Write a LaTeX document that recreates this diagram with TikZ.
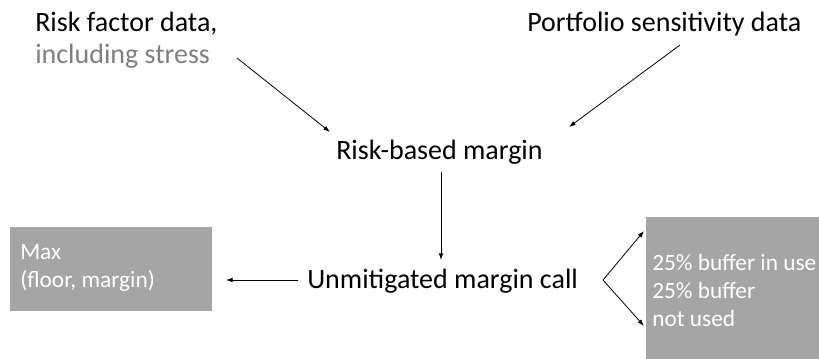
\documentclass[tikz,border=0pt]{standalone}
\usepackage{fontspec}
\setmainfont{Carlito}
\usetikzlibrary{arrows.meta}
\definecolor{boxgray}{HTML}{A5A5A5}
\definecolor{softgray}{HTML}{7F7F7F}
\tikzset{
  main/.style={font=\fontsize{21}{24}\selectfont, inner sep=0pt, anchor=base west, align=left},
  boxtext/.style={font=\fontsize{17.5}{21}\selectfont, text=white, inner sep=0pt, anchor=base west, align=left},
  graybox/.style={fill=boxgray, inner sep=0pt, anchor=north west},
  flow/.style={-{Latex[length=5pt,width=3.5pt]}, line width=0.6pt},
}
\begin{document}
\begin{tikzpicture}[x=0.75pt,y=-0.75pt]
      \useasboundingbox (0,0) rectangle (819,359);
      % boxes
      \node[graybox, minimum width=151.5pt, minimum height=63pt] (maxbox) at (10,227) {};
      \node[graybox, minimum width=129.75pt, minimum height=106pt] (bufbox) at (646,217) {};
      % texts (base = last line)
      \draw
        (35,64) node[main] (riskdata) {Risk factor data,\\\textcolor{softgray}{including stress}}
        (527,32) node[main] (portdata) {Portfolio sensitivity data}
        (336,160) node[main] (rbm) {Risk-based margin}
        (307,289) node[main] (umc) {Unmitigated margin call}
        (20,288) node[boxtext] (maxtext) {Max\\(floor, margin)}
        (652,327) node[boxtext] (buftext) {25\% buffer in use\\25\% buffer\\not used};
      % arrow ends
      \coordinate (a1) at (237,58);
      \coordinate (a2) at (330,132);
      \coordinate (b1) at (680,45);
      \coordinate (b2) at (569,127);
      \coordinate (c1) at (441,172);
      \coordinate (c2) at (441,260);
      \coordinate (d1) at (298,280);
      \coordinate (d2) at (226,280);
      \coordinate (e0) at (603,280);
      \coordinate (e1) at (644,231);
      \coordinate (e2) at (644,326);
      \begin{scope}[flow]
        \draw (a1) to (a2);
        \draw (b1) to (b2);
        \draw (c1) to (c2);
        \draw (d1) to (d2);
        \draw (e0) to (e1);
        \draw (e0) to (e2);
      \end{scope}
    \end{tikzpicture}
\end{document}
